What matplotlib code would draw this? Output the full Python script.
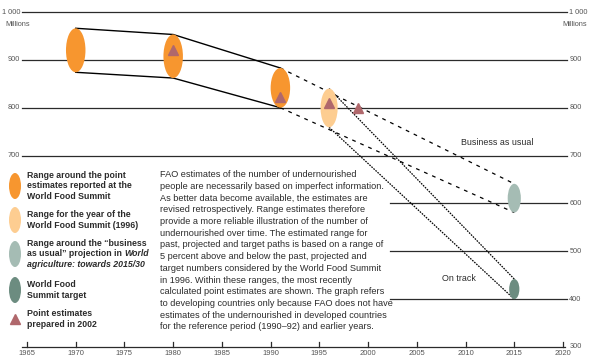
import matplotlib.pyplot as plt
from matplotlib.patches import Ellipse

# ranges (5% above/below the point used by the World Food Summit), millions
range_years = [1970, 1980, 1991, 1996, 2015, 2015]
range_low = [874, 862, 800, 759, 581, 400]
range_high = [966, 953, 883, 840, 641, 442]
range_kind = ["wfs", "wfs", "wfs", "wfs96", "bau", "target"]

# point estimates prepared in 2002
point_years = [1980, 1991, 1996, 1999]
point_values = [921, 822, 809, 799]

x_ticks = [1965, 1970, 1975, 1980, 1985, 1990, 1995, 2000, 2005, 2010, 2015, 2020]
left_labels = [1000, 900, 800, 700]
right_labels = [1000, 900, 800, 700, 600, 500, 400, 300]
grid_full = [700, 800, 900, 1000]
grid_part = [400, 500, 600]

COLORS = {"wfs": "#F7962F", "wfs96": "#FDCD91", "bau": "#A5BCB4", "target": "#6C8C80"}
WIDTHS = {"wfs": 2.0, "wfs96": 1.75, "bau": 1.35, "target": 1.05}
TRI = "#B0686C"
INK = "#2b2b2b"
GREY = "#555555"

legend_items = [
    ("wfs", ["Range around the point", "estimates reported at the", "World Food Summit"]),
    ("wfs96", ["Range for the year of the", "World Food Summit (1996)"]),
    ("bau", None),
    ("target", ["World Food", "Summit target"]),
    ("tri", ["Point estimates", "prepared in 2002"]),
]

note = ("FAO estimates of the number of undernourished\n"
        "people are necessarily based on imperfect information.\n"
        "As better data become available, the estimates are\n"
        "revised retrospectively. Range estimates therefore\n"
        "provide a more reliable illustration of the number of\n"
        "undernourished over time. The estimated range for\n"
        "past, projected and target paths is based on a range of\n"
        "5 percent above and below the past, projected and\n"
        "target numbers considered by the World Food Summit\n"
        "in 1996. Within these ranges, the most recently\n"
        "calculated point estimates are shown. The graph refers\n"
        "to developing countries only because FAO does not have\n"
        "estimates of the undernourished in developed countries\n"
        "for the reference period (1990\u201392) and earlier years.")

plt.rcParams["font.family"] = ["Liberation Sans", "DejaVu Sans"]

W, H = 592, 364
fig = plt.figure(figsize=(W / 100, H / 100), dpi=100)
ax = fig.add_axes([27 / W, 17 / H, 536 / W, 335 / H])
ax.set_xlim(1965, 2020)
ax.set_ylim(300, 1000)
ax.axis("off")

# grid lines
for v in grid_full:
    ax.plot([1964.5, 2020.4], [v, v], color=INK, lw=0.9, zorder=1, clip_on=False)
for v in grid_part:
    ax.plot([2002.2, 2020.4], [v, v], color=INK, lw=0.9, zorder=1, clip_on=False)

# x axis
ax.plot([1964.5, 2020.2], [300, 300], color=INK, lw=0.9, clip_on=False)
for yr in x_ticks:
    ax.plot([yr, yr], [300, 311], color=INK, lw=0.9, clip_on=False)
    ax.annotate(str(yr), (yr, 300), xytext=(0, -2.5), textcoords="offset points",
                ha="center", va="top", fontsize=5.5, color=GREY)

for v in left_labels:
    ax.annotate(f"{v:,}".replace(",", " "), (1965, v), xytext=(-5, 0),
                textcoords="offset points", ha="right", va="center", fontsize=5.3, color=GREY)
for v in right_labels:
    ax.annotate(f"{v:,}".replace(",", " "), (2020, v), xytext=(4.5, 0),
                textcoords="offset points", ha="left", va="center", fontsize=5.3, color=GREY)

# paths between ranges
past = [0, 1, 2]
ax.plot([range_years[i] for i in past], [range_high[i] for i in past], color="black", lw=1.0, zorder=2)
ax.plot([range_years[i] for i in past], [range_low[i] for i in past], color="black", lw=1.0, zorder=2)
for a, b, dash in [(2, 4, (3, 4)), (3, 5, (1.3, 0.9))]:
    ax.plot([range_years[a], range_years[b]], [range_high[a], range_high[b]],
            color="black", lw=0.9, dashes=dash, zorder=2)
    ax.plot([range_years[a], range_years[b]], [range_low[a], range_low[b]],
            color="black", lw=0.9, dashes=dash, zorder=2)

# range ellipses
for yr, lo, hi, k in zip(range_years, range_low, range_high, range_kind):
    ax.add_patch(Ellipse((yr, (lo + hi) / 2), WIDTHS[k], hi - lo,
                         facecolor=COLORS[k], edgecolor="none", zorder=3, clip_on=False))

ax.plot(point_years, point_values, "^", ms=6.5, color=TRI, zorder=5, clip_on=False)

ax.text(2009.5, 728, "Business as usual", fontsize=6.4, color=INK, va="center")
ax.text(2007.6, 444, "On track", fontsize=6.4, color=INK, va="center")

# layout layer in pixels
lay = fig.add_axes([0, 0, 1, 1], zorder=-1)
lay.set_xlim(0, W)
lay.set_ylim(H, 0)
lay.axis("off")

lay.text(5, 25, "Millions", fontsize=5.3, color=GREY, va="center")
lay.text(587, 25, "Millions", fontsize=5.3, color=GREY, va="center", ha="right")

icon_y = [186, 220, 254, 290, 319]
for (kind, lines), cy in zip(legend_items, icon_y):
    if kind == "tri":
        lay.plot(15, cy, "^", ms=6.5, color=TRI)
    else:
        lay.add_patch(Ellipse((15, cy), 12, 26, facecolor=COLORS[kind], edgecolor="none"))
    kw = dict(fontsize=6.3, fontweight="bold", color=INK, va="center", linespacing=1.2)
    if lines is not None:
        lay.text(27, cy, "\n".join(lines), **kw)
    else:
        lay.text(27, cy - 10.5, "Range around the \u201cbusiness", **kw)
        t = lay.text(27, cy, "as usual\u201d projection in ", **kw)
        lay.annotate("World", xy=(1, 0.5), xycoords=t, va="center", ha="left",
                     fontsize=6.3, fontweight="bold", style="italic", color=INK)
        lay.text(27, cy + 10.5, "agriculture: towards 2015/30", style="italic", **kw)

lay.text(160, 170, note, fontsize=6.55, color=INK, va="top", ha="left", linespacing=1.39)

fig.savefig("out.png", dpi=100)
